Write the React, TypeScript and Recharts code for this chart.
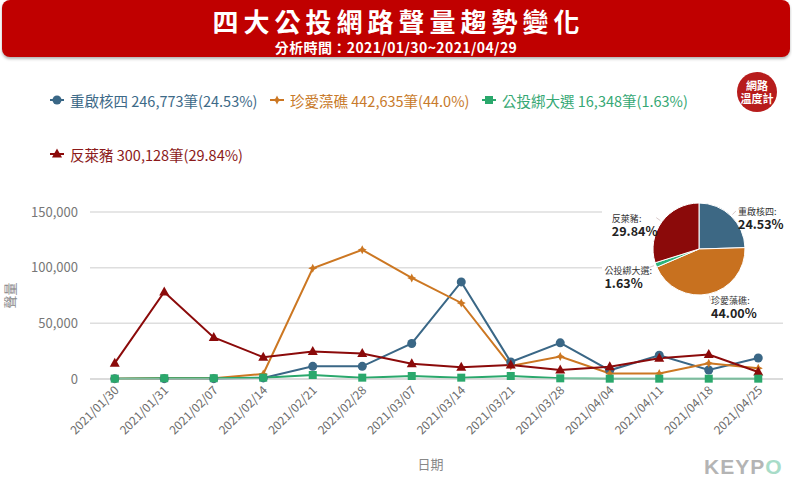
import { CartesianGrid, Cell, Label, Line, LineChart, Pie, PieChart, XAxis, YAxis } from 'recharts'

const FONT = '"Noto Sans CJK TC", "Noto Sans", sans-serif'

const dates = [
  '2021/01/30', '2021/01/31', '2021/02/07', '2021/02/14', '2021/02/21', '2021/02/28', '2021/03/07',
  '2021/03/14', '2021/03/21', '2021/03/28', '2021/04/04', '2021/04/11', '2021/04/18', '2021/04/25',
]
const nuclear = [300, 300, 300, 1000, 11400, 11400, 31900, 87200, 15300, 32500, 7800, 21300, 8100, 18900]
const algae = [300, 700, 700, 4500, 99500, 116000, 90800, 68300, 11700, 20100, 5000, 5000, 14200, 9600]
const referendum = [300, 700, 700, 1200, 3600, 1200, 2700, 1200, 2700, 600, 300, 300, 300, 300]
const pork = [14200, 78200, 37300, 19600, 24600, 22800, 13800, 10500, 12600, 8100, 11100, 18600, 21900, 6300]

const seriesNames = ['重啟核四', '珍愛藻礁', '公投綁大選', '反萊豬']
const seriesTotals = ['246,773', '442,635', '16,348', '300,128']
const legendShares = ['24.53%', '44.0%', '1.63%', '29.84%']
const pieShares = [24.53, 44.0, 1.63, 29.84]
const yTicks = [0, 50000, 100000, 150000]

const LINE_COLORS = ['#3a6786', '#cc7722', '#2aa86c', '#8b0a0a']
const TEXT_COLORS = ['#3d6a88', '#c87a2a', '#35a874', '#8b1a1a']
const PIE_COLORS = ['#3d6884', '#c8711f', '#2db37a', '#8b0a0a']

const PLOT_WIDTH = 693
const BAND = PLOT_WIDTH / dates.length

const chartData = dates.map((date, i) => ({
  date,
  nuclear: nuclear[i],
  algae: algae[i],
  referendum: referendum[i],
  pork: pork[i],
}))

const pieData = seriesNames.map((name, i) => ({ name, value: pieShares[i] }))

function Marker({ kind, x, y, color }: { kind: number; x: number; y: number; color: string }) {
  if (kind === 0) return <circle cx={x} cy={y} r={4.5} fill={color} />
  if (kind === 1)
    return (
      <path
        d={`M${x},${y - 4.5} L${x + 1.5},${y - 1.5} L${x + 4.5},${y} L${x + 1.5},${y + 1.5} L${x},${y + 4.5} L${x - 1.5},${y + 1.5} L${x - 4.5},${y} L${x - 1.5},${y - 1.5} Z`}
        fill={color}
      />
    )
  if (kind === 2) return <rect x={x - 4} y={y - 4} width={8} height={8} fill={color} />
  return <path d={`M${x},${y - 5.5} L${x + 5},${y + 3.5} L${x - 5},${y + 3.5} Z`} fill={color} />
}

const makeDot = (kind: number, color: string) => (props: any) => (
  <Marker key={`${kind}-${props.index}`} kind={kind} x={props.cx} y={props.cy} color={color} />
)

function XTick({ x, y, payload, index }: any) {
  return (
    <g>
      <line x1={x - BAND / 2} y1={379} x2={x - BAND / 2} y2={385} stroke="#d0d0d0" />
      {index === dates.length - 1 && (
        <line x1={x + BAND / 2} y1={379} x2={x + BAND / 2} y2={385} stroke="#d0d0d0" />
      )}
      <text
        transform={`translate(${x + 5},${y + 4}) rotate(-45)`}
        textAnchor="end"
        fontSize={12}
        fill="#6b6b6b"
        fontFamily={FONT}
      >
        {payload.value}
      </text>
    </g>
  )
}

function PieLabel(props: any) {
  const { cx, cy, midAngle, outerRadius, index } = props
  const rad = Math.PI / 180
  const cos = Math.cos(-midAngle * rad)
  const sin = Math.sin(-midAngle * rad)
  const gx = cx + (outerRadius + 10) * cos
  const gy = cy + (outerRadius + 10) * sin
  const lx = cos >= 0 ? gx : gx - 42
  const ly = sin > 0.5 ? gy - 6 : gy
  return (
    <g>
      <line
        x1={cx + (outerRadius + 2) * cos}
        y1={cy + (outerRadius + 2) * sin}
        x2={cx + (outerRadius + 7) * cos}
        y2={cy + (outerRadius + 7) * sin}
        stroke="#d8c8c8"
      />
      <text x={lx} y={ly + 6} fontSize={9} fill="#333" fontFamily={FONT}>
        {seriesNames[index]}:
      </text>
      <text x={lx} y={ly + 20} fontSize={12.5} fontWeight="bold" fill="#222" fontFamily={FONT}>
        {pieShares[index].toFixed(2)}%
      </text>
    </g>
  )
}

function LegendItem({ i, left, top }: { i: number; left: number; top: number }) {
  return (
    <div
      style={{
        position: 'absolute',
        left,
        top: top - 11,
        height: 22,
        display: 'flex',
        alignItems: 'center',
        gap: 6,
        whiteSpace: 'nowrap',
        fontSize: 14.5,
        color: TEXT_COLORS[i],
      }}
    >
      <svg width={14} height={12}>
        <line x1={0} y1={6} x2={14} y2={6} stroke={LINE_COLORS[i]} strokeWidth={2} />
        <Marker kind={i} x={7} y={6} color={LINE_COLORS[i]} />
      </svg>
      <span>
        {seriesNames[i]} {seriesTotals[i]}筆({legendShares[i]})
      </span>
    </div>
  )
}

export default function App() {
  return (
    <div
      style={{
        position: 'absolute',
        left: 0,
        top: 0,
        width: 792,
        height: 479,
        background: '#ffffff',
        fontFamily: FONT,
        overflow: 'hidden',
      }}
    >
      <div
        style={{
          position: 'absolute',
          left: 2,
          top: 0,
          width: 788,
          height: 57,
          background: '#c00000',
          borderRadius: 8,
          boxShadow: '0 2px 3px rgba(0,0,0,0.3)',
          color: '#fff',
          textAlign: 'center',
        }}
      >
        <div
          style={{
            position: 'absolute',
            top: 5,
            width: '100%',
            paddingLeft: 5,
            boxSizing: 'border-box',
            fontSize: 26,
            fontWeight: 'bold',
            letterSpacing: 5,
            lineHeight: '32px',
          }}
        >
          四大公投網路聲量趨勢變化
        </div>
        <div
          style={{
            position: 'absolute',
            top: 38,
            width: '100%',
            fontSize: 14,
            fontWeight: 'bold',
            letterSpacing: 0.4,
            lineHeight: '18px',
          }}
        >
          分析時間：2021/01/30~2021/04/29
        </div>
      </div>

      <LegendItem i={0} left={50} top={100} />
      <LegendItem i={1} left={270} top={100} />
      <LegendItem i={2} left={482} top={100} />
      <LegendItem i={3} left={50} top={154} />

      <div
        style={{
          position: 'absolute',
          left: 737,
          top: 72,
          width: 40,
          height: 40,
          borderRadius: '50%',
          background: '#b71c1c',
          color: '#fff',
          fontSize: 11,
          fontWeight: 'bold',
          lineHeight: '13px',
          textAlign: 'center',
          display: 'flex',
          flexDirection: 'column',
          justifyContent: 'center',
        }}
      >
        <span>網路</span>
        <span>溫度計</span>
      </div>

      <div style={{ position: 'absolute', left: 0, top: 190 }}>
        <LineChart width={792} height={289} data={chartData} margin={{ top: 22, right: 9, bottom: 8, left: 0 }}>
          <CartesianGrid vertical={false} stroke="#dedede" strokeWidth={1.5} />
          <XAxis
            dataKey="date"
            height={92}
            interval={0}
            padding={{ left: BAND / 2, right: BAND / 2 }}
            tick={<XTick />}
            tickLine={false}
            axisLine={{ stroke: '#d0d0d0' }}
          >
            <Label value="日期" position="insideBottom" offset={2} dx={-6} fontSize={13} fill="#888" fontFamily={FONT} />
          </XAxis>
          <YAxis
            width={90}
            domain={[0, 150000]}
            ticks={yTicks}
            tickLine={false}
            axisLine={false}
            tickMargin={6}
            tick={{ fontSize: 13, fill: '#777', fontFamily: FONT }}
            tickFormatter={(v: number) => v.toLocaleString('en-US')}
          >
            <Label
              content={({ viewBox }: any) => (
                <text
                  transform={`translate(${viewBox.x + 15},${viewBox.y + viewBox.height / 2}) rotate(-90)`}
                  textAnchor="middle"
                  fontSize={13}
                  fill="#888"
                  fontFamily={FONT}
                >
                  聲量
                </text>
              )}
            />
          </YAxis>
          <Line dataKey="nuclear" stroke={LINE_COLORS[0]} strokeWidth={2} dot={makeDot(0, LINE_COLORS[0])} isAnimationActive={false} />
          <Line dataKey="algae" stroke={LINE_COLORS[1]} strokeWidth={2} dot={makeDot(1, LINE_COLORS[1])} isAnimationActive={false} />
          <Line dataKey="pork" stroke={LINE_COLORS[3]} strokeWidth={2} dot={makeDot(3, LINE_COLORS[3])} isAnimationActive={false} />
          <Line dataKey="referendum" stroke={LINE_COLORS[2]} strokeWidth={2} dot={makeDot(2, LINE_COLORS[2])} isAnimationActive={false} />
        </LineChart>
      </div>

      <div style={{ position: 'absolute', left: 602, top: 195, width: 190, height: 127, background: '#fff' }}>
        <PieChart width={190} height={127} margin={{ top: 0, right: 0, bottom: 0, left: 0 }}>
          <Pie
            data={pieData}
            dataKey="value"
            nameKey="name"
            cx={97}
            cy={54}
            outerRadius={46}
            startAngle={90}
            endAngle={-270}
            stroke="#fff"
            strokeWidth={1}
            label={<PieLabel />}
            labelLine={false}
            isAnimationActive={false}
          >
            {pieData.map((d, i) => (
              <Cell key={d.name} fill={PIE_COLORS[i]} />
            ))}
          </Pie>
        </PieChart>
      </div>

      <div
        style={{
          position: 'absolute',
          left: 704,
          top: 454,
          fontSize: 21,
          fontWeight: 'bold',
          letterSpacing: 1,
          lineHeight: '26px',
          color: '#b4b4b4',
          fontFamily: '"Liberation Sans", sans-serif',
        }}
      >
        KEYP<span style={{ color: '#a8dcc8' }}>O</span>
      </div>
    </div>
  )
}
